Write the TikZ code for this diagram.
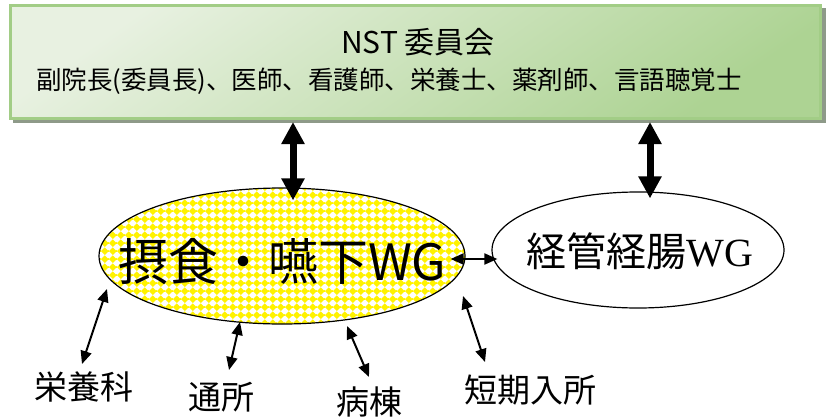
\documentclass[tikz,border=0pt]{standalone}
\usepackage{fontspec}
\newfontfamily\cjk{Noto Sans CJK JP}
\newfontfamily\tms{Liberation Serif}
\usetikzlibrary{arrows.meta,shapes.geometric,patterns.meta,calc}
\definecolor{nstlight}{HTML}{E8F1E1}
\definecolor{nstgreen}{HTML}{ADD393}
\definecolor{nstborder}{HTML}{A2CD86}
\definecolor{shadowgray}{HTML}{8E9A89}
\tikzdeclarepattern{
  name=ydia,
  type=colored,
  bottom left={(0pt,0pt)},
  top right={(7.8pt,7.8pt)},
  tile size={(7.8pt,7.8pt)},
  code={\fill[yellow] (0pt,3.9pt) -- (3.9pt,0pt) -- (7.8pt,3.9pt) -- (3.9pt,7.8pt) -- cycle;}
}
\begin{document}
\begin{tikzpicture}[x=1pt,y=-1pt,
  nstbox/.style={rectangle, draw=nstborder, line width=3pt, minimum width=810pt, minimum height=113pt, inner sep=0pt,
    top color=nstlight, bottom color=nstgreen, shading angle=35},
  wgbox/.style={ellipse, draw=black, line width=1.2pt, inner sep=0pt},
  lab/.style={font=\cjk\fontsize{33}{36}\selectfont, inner sep=0pt, anchor=north},
  bigarrow/.style={line width=7pt, {Triangle[width=22pt,length=22pt]}-{Triangle[width=22pt,length=22pt]}},
  thinarrow/.style={line width=2pt, {Triangle[width=11pt,length=13pt]}-{Triangle[width=11pt,length=13pt]}}
]
\useasboundingbox (0,0) rectangle (827,420);
% committee box
\fill[shadowgray] (13,8) rectangle (826,123);
\node[nstbox] (nst) at (415.5,62) {};
\node[font=\cjk\fontsize{30}{32}\selectfont, inner sep=0pt] (t1) at (418,42) {NST 委員会};
\node[font=\cjk\fontsize{25.5}{28}\selectfont, inner sep=0pt] (t2) at (389,81) {副院長(委員長)、医師、看護師、栄養士、薬剤師、言語聴覚士};
% working groups
\node[wgbox, minimum width=366pt, minimum height=136pt, preaction={fill=white}, pattern=ydia] (e1) at (282,256) {};
\node[wgbox, minimum width=292pt, minimum height=116pt, fill=white] (e2) at (638,250) {};
\node[font=\cjk\fontsize{50}{56}\selectfont, inner sep=0pt] (t3) at (282,262) {摂食・嚥下WG};
\node[font=\cjk\fontsize{40}{44}\selectfont, inner sep=0pt] (t4) at (640,251) {経管経腸{\tms WG}};
% departments
\node[lab] (l1) at (84,372) {栄養科};
\node[lab] (l2) at (221,382) {通所};
\node[lab] (l3) at (369,387) {病棟};
\node[lab] (l4) at (530,375) {短期入所};
% arrow ends on the ellipse side
\coordinate (c1) at (107,289);
\coordinate (c2) at (240,322);
\coordinate (c3) at (347,326);
\coordinate (c4) at (463,296);
% connectors
\draw[bigarrow] ([shift={(-122.5pt,-2pt)}]nst.south) -- ([shift={(11pt,-13pt)}]e1.north);
\draw[bigarrow] ([shift={(234.5pt,-2pt)}]nst.south) -- ([shift={(12pt,-7pt)}]e2.north);
\draw[thinarrow] ([shift={(-15pt,-3pt)}]e1.east) -- ([shift={(6pt,-9pt)}]e2.west);
\draw[thinarrow] (c1) -- ([shift={(-2pt,8pt)}]l1.north);
\draw[thinarrow] (c2) -- ([shift={(8pt,12pt)}]l2.north);
\draw[thinarrow] (c3) -- ([shift={(0pt,10pt)}]l3.north);
\draw[thinarrow] (c4) -- ([shift={(-45pt,13pt)}]l4.north);
\end{tikzpicture}
\end{document}
